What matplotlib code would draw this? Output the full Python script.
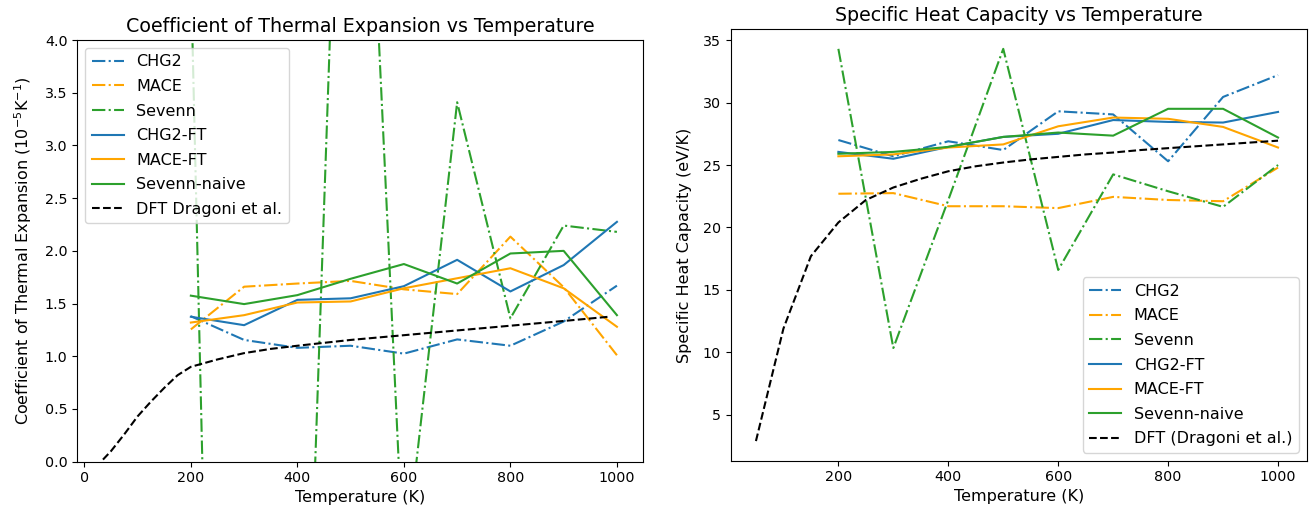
import numpy as np
import matplotlib
matplotlib.use("Agg")
import matplotlib.pyplot as plt

# ---------------- dados ----------------

temps = [200, 300, 400, 500, 600, 700, 800, 900, 1000]

# coeficiente de expansao termica (10^-5 K^-1)
cte_chg2 = [1.38, 1.155, 1.08, 1.10, 1.025, 1.16, 1.10, 1.33, 1.67]
cte_mace = [1.255, 1.66, 1.69, 1.715, 1.635, 1.59, 2.135, 1.655, 1.01]
cte_sevenn = [4.65, -16.9, -4.9, 9.7, -1.05, 3.41, 1.36, 2.24, 2.18]
cte_chg2_ft = [1.375, 1.295, 1.535, 1.55, 1.665, 1.915, 1.615, 1.865, 2.275]
cte_mace_ft = [1.32, 1.39, 1.51, 1.52, 1.645, 1.74, 1.835, 1.645, 1.28]
cte_sevenn_naive = [1.575, 1.495, 1.58, 1.735, 1.875, 1.69, 1.975, 2.0, 1.39]

cte_dft_t = [35, 50, 75, 100, 125, 150, 175, 200, 250, 300, 350, 400,
             500, 600, 700, 800, 900, 985]
cte_dft = [0.02, 0.10, 0.26, 0.43, 0.57, 0.70, 0.82, 0.90, 0.97, 1.03,
           1.07, 1.10, 1.155, 1.20, 1.245, 1.29, 1.335, 1.375]

# capacidade termica (eV/K)
cp_chg2 = [27.0, 25.7, 26.9, 26.2, 29.3, 29.05, 25.3, 30.45, 32.2]
cp_mace = [22.7, 22.75, 21.7, 21.7, 21.55, 22.45, 22.2, 22.1, 24.8]
cp_sevenn = [34.3, 10.35, 22.2, 34.3, 16.6, 24.25, 22.9, 21.65, 25.0]
cp_chg2_ft = [26.05, 25.5, 26.45, 27.25, 27.5, 28.6, 28.45, 28.4, 29.25]
cp_mace_ft = [25.7, 25.85, 26.4, 26.65, 28.1, 28.8, 28.7, 28.05, 26.4]
cp_sevenn_naive = [25.9, 26.05, 26.45, 27.25, 27.6, 27.35, 29.5, 29.5, 27.2]

cp_dft_t = [50, 100, 150, 200, 250, 300, 350, 400, 450, 500, 550, 600,
            650, 700, 750, 800, 850, 900, 950, 1000]
cp_dft = [2.9, 11.9, 17.7, 20.4, 22.2, 23.2, 23.9, 24.5, 24.9, 25.2, 25.45,
          25.65, 25.85, 26.0, 26.2, 26.35, 26.5, 26.65, 26.8, 26.95]

azul = '#1f77b4'
laranja = 'orange'
verde = '#2ca02c'

plt.rcParams['xtick.labelsize'] = 10.3
plt.rcParams['ytick.labelsize'] = 10.3
plt.rcParams['axes.labelsize'] = 11.5
plt.rcParams['axes.titlesize'] = 13.7
plt.rcParams['legend.fontsize'] = 11.5
plt.rcParams['legend.labelspacing'] = 0.6
plt.rcParams['axes.labelpad'] = 8

# ---------------- figura ----------------

fig = plt.figure(figsize=(13.12, 5.13), dpi=100)
ax1 = fig.add_axes([0.0589, 0.100, 0.4309, 0.822])
ax2 = fig.add_axes([0.5569, 0.102, 0.4390, 0.841])

# expansao termica
ax1.plot(temps, cte_chg2, '-.', color=azul, label='CHG2')
ax1.plot(temps, cte_mace, '-.', color=laranja, label='MACE')
ax1.plot(temps, cte_sevenn, '-.', color=verde, label='Sevenn')
ax1.plot(temps, cte_chg2_ft, '-', color=azul, label='CHG2-FT')
ax1.plot(temps, cte_mace_ft, '-', color=laranja, label='MACE-FT')
ax1.plot(temps, cte_sevenn_naive, '-', color=verde, label='Sevenn-naive')
ax1.plot(cte_dft_t, cte_dft, '--', color='black', label='DFT Dragoni et al.')
ax1.set_ylim(0, 4)
ax1.set_xlabel('Temperature (K)', labelpad=3)
ax1.set_ylabel('Coefficient of Thermal Expansion ($10^{-5}$K$^{-1}$)')
ax1.set_title('Coefficient of Thermal Expansion vs Temperature')
ax1.legend(loc='upper left')

# capacidade termica
ax2.plot(temps, cp_chg2, '-.', color=azul, label='CHG2')
ax2.plot(temps, cp_mace, '-.', color=laranja, label='MACE')
ax2.plot(temps, cp_sevenn, '-.', color=verde, label='Sevenn')
ax2.plot(temps, cp_chg2_ft, '-', color=azul, label='CHG2-FT')
ax2.plot(temps, cp_mace_ft, '-', color=laranja, label='MACE-FT')
ax2.plot(temps, cp_sevenn_naive, '-', color=verde, label='Sevenn-naive')
ax2.plot(cp_dft_t, cp_dft, '--', color='black', label='DFT (Dragoni et al.)')
ax2.set_xlim(4, 1052)
ax2.set_xlabel('Temperature (K)', labelpad=3)
ax2.set_ylabel('Specific Heat Capacity (eV/K)')
ax2.set_title('Specific Heat Capacity vs Temperature')
ax2.legend(loc='lower right')

fig.savefig('out.png', dpi=100)
